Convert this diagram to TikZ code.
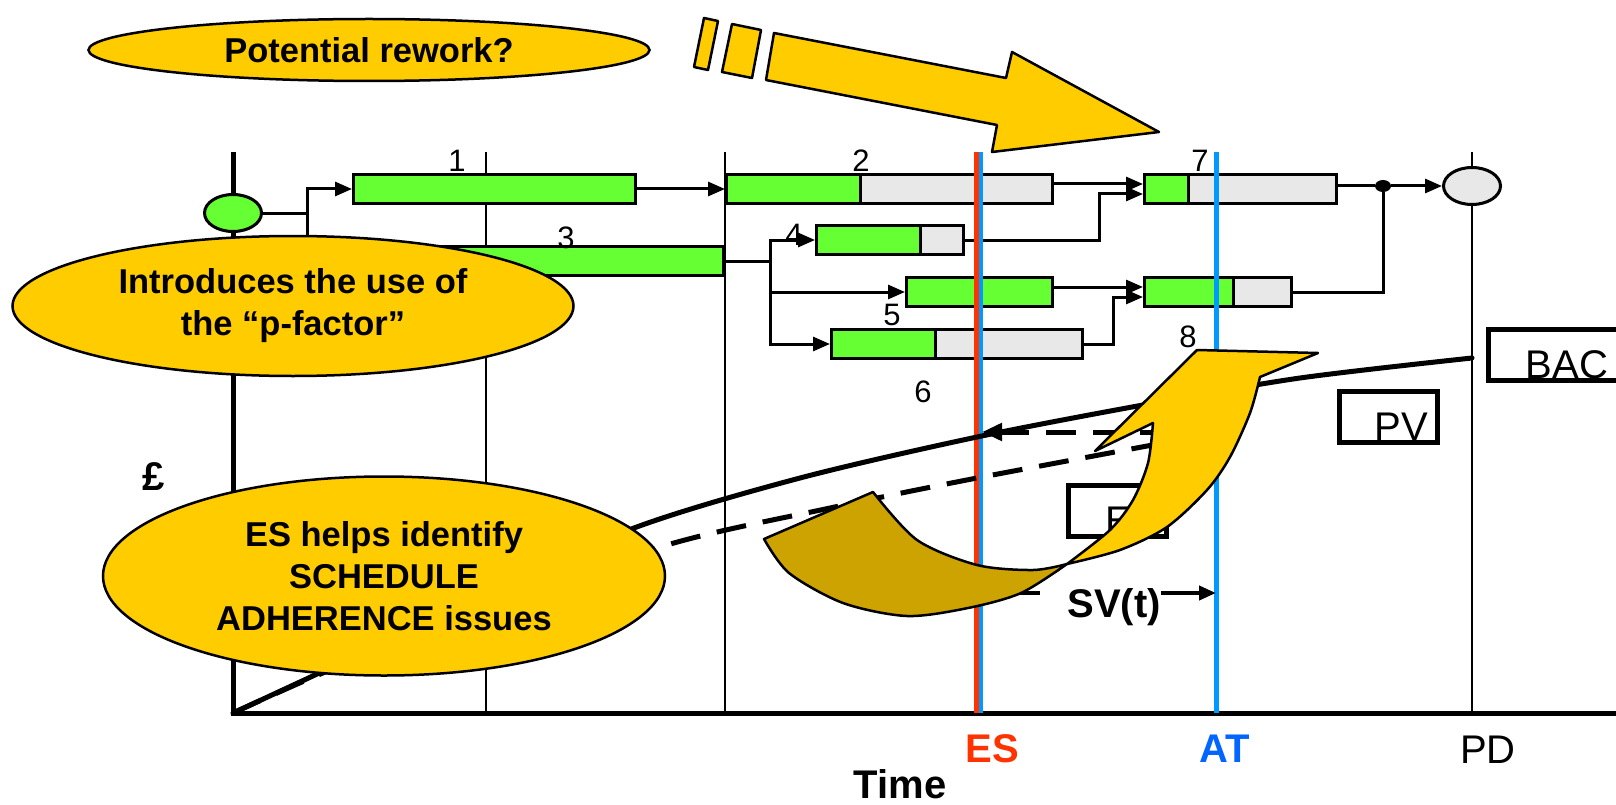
\documentclass[tikz,border=0pt]{standalone}
\usepackage{fontspec}
\setmainfont{Liberation Sans}
\usepackage{xcolor}
\usepackage{tikz}
\usetikzlibrary{positioning,arrows.meta,shapes.geometric}
\definecolor{ylw}{HTML}{FFCC00}
\definecolor{drk}{HTML}{CCA300}
\definecolor{grn}{HTML}{66FF33}
\definecolor{gry}{HTML}{E8E8E8}
\definecolor{esred}{HTML}{FF3300}
\definecolor{atblue}{HTML}{0099FF}
\definecolor{attxt}{HTML}{0066FF}

\begin{document}
\begin{tikzpicture}[x=1pt, y=-1pt,
  >={Triangle[length=17pt,width=14pt]},
  task/.style={draw, line width=3pt, fill=gry, inner sep=0pt, minimum height=29pt},
  full/.style={task, fill=grn},
  part/.style={path picture={\draw[line width=3pt, fill=grn]
      ([xshift=-5pt,yshift=5pt]path picture bounding box.north west) rectangle
      ([xshift=#1pt,yshift=-5pt]path picture bounding box.south west);}},
  evt/.style={ellipse, draw, line width=3pt, inner sep=0pt, minimum width=57pt, minimum height=37pt},
  conn/.style={line width=3pt},
  num/.style={font=\fontsize{31}{36}\selectfont, inner sep=0pt, anchor=base},
  vbox/.style={draw, line width=5pt, minimum width=98pt, minimum height=51pt, inner sep=0pt},
  vtxt/.style={font=\fontsize{40}{46}\selectfont, inner sep=0pt, anchor=base},
  btxt/.style={vtxt, font=\bfseries\fontsize{40}{46}\selectfont},
  call/.style={ellipse, draw, line width=2.5pt, fill=ylw, inner sep=0pt, align=center,
      minimum width=561pt, font=\bfseries\fontsize{34.5}{42}\selectfont},
  pvc/.style={line width=5pt, line cap=round, line join=round},
  evc/.style={line width=5pt, dash pattern=on 30pt off 17pt},
  shp/.style={line width=2.5pt, line join=round}]
\useasboundingbox (0,0) rectangle (1616,805);
\clip (0,0) rectangle (1616,805);

% axes and time grid
\coordinate (o) at (233,713);
\draw[line width=1.5pt] (486,152) -- (486,713) (725,152) -- (725,713) (1472,152) -- (1472,713);
\draw[line width=5pt, line join=miter] (233,152) -- (o) -- (1630,713);

% network
\node[evt, fill=grn] (st) at (233,213) {};
\node[evt, fill=gry] (en) at (1472,186) {};
\node[ellipse, fill, inner sep=0pt, minimum width=16pt, minimum height=12pt] (jn) at (1383,186) {};
\coordinate (br1) at (307,213);
\node[full, minimum width=282pt] (t1) at (494.5,189) {};
\node[task, part=133.5, minimum width=326pt] (t2) at (889.5,189) {};
\node[task, part=43.5, minimum width=192pt] (t7) at (1240.5,189) {};
\node[full, minimum width=370pt] (t3) at (538.5,261) {};
\node[task, part=103.5, minimum width=147pt] (t4) at (890,240) {};
\node[full, minimum width=146pt] (t5) at (979.5,292) {};
\node[task, part=88.5, minimum width=147pt] (t8) at (1218,292) {};
\node[task, part=103.5, minimum width=251pt] (t6) at (957,344) {};
\draw[conn] (st) -- (br1);
\draw[conn, ->] (br1) |- (t1);
\draw[conn, ->] (br1) |- (t3);
\draw[conn, ->] (t1) -- (t2);
\draw[conn, ->] ([yshift=5pt]t2.east) -- ([yshift=5pt]t7.west);
\draw[conn, ->] (t4) -| ([xshift=-44pt,yshift=-5pt]t7.west) -- ([yshift=-5pt]t7.west);
\draw[conn, ->] (t3.east) -- ++(45,0) |- (t4);
\draw[conn, ->] (t3.east) -- ++(45,0) |- (t5);
\draw[conn, ->] (t3.east) -- ++(45,0) |- (t6);
\draw[conn, ->] ([yshift=5pt]t5.east) -- ([yshift=5pt]t8.west);
\draw[conn, ->] (t6) -| ([xshift=-30pt,yshift=-5pt]t8.west) -- ([yshift=-5pt]t8.west);
\draw[conn] (t7.east |- jn) -- (jn);
\draw[conn, ->] (jn) -- (en);
\draw[conn] (t8) -| (jn);
\node[num] (l1) at (457,172) {1};
\node[num] (l2) at (861,172) {2};
\node[num] (l7) at (1200,172) {7};
\node[num] (l3) at (566,248) {3};
\node[num] (l4) at (794,245) {4};
\node[num] (l5) at (892,325) {5};
\node[num] (l8) at (1188,347) {8};
\node[num] (l6) at (923,402) {6};

% ES and AT
\draw[atblue, line width=4pt] (981,152) -- (981,713);
\draw[esred, line width=5pt] (976,152) -- (976,713);
\draw[atblue, line width=5pt] (1216,152) -- (1216,713);

% value boxes
\node[vbox] (evb) at (1117.5,510.5) {};
\node[vtxt] (evl) at (1132,534) {EV};
\node[vbox] (pvb) at (1388.5,417) {};
\node[vtxt] (pvl) at (1401,440) {PV};
\node[vbox, minimum width=160pt] (bcb) at (1568.5,355) {};
\node[vtxt] (bcl) at (1567,378) {BAC};

% PV and EV curves
\draw[pvc] plot[smooth] coordinates {(o) (330,668) (480,598) (634,528) (800,478) (977,437) (1143,405) (1300,378) (1472,358)};
\draw[evc] plot[smooth] coordinates {(o) (330,670) (480,612) (667,545) (830,508) (977,478) (1217,433)};
\coordinate (evat) at (1217,432);
\coordinate (esp) at (982,432);
\draw[evc, -{Triangle[length=20pt,width=17pt]}] (evat) -- (esp);

% SV(t)
\node[btxt] (sv) at (1114,617) {SV(t)};
\coordinate (svl) at (982,593);
\coordinate (svg) at (1040,593);
\coordinate (svr) at (1216,593);
\draw[line width=4pt] (svl) -- (svg);
\draw[line width=4pt, -{Triangle[length=17pt,width=14pt]}] (sv.east |- svr) -- (svr);

% callouts
\node[call, minimum height=62pt] (rw) at (369,50) {Potential rework?};
\node[call, minimum height=140pt] (pf) at (293,306) {Introduces the use of\\the “p-factor”};
\node[call, minimum height=199pt, minimum width=562pt] (eh) at (384,576) {ES helps identify\\SCHEDULE\\ADHERENCE issues};

% curved arrow
\filldraw[shp, fill=drk] (764,539) -- (873,492)
  -- plot[smooth] coordinates {(873,492) (917,540) (977,565) (1033,570) (1067,564)}
  -- plot[smooth] coordinates {(1067,564) (1021,593) (968,608) (907,616) (843,603) (789,573) (764,539)} -- cycle;
\filldraw[shp, fill=ylw] (1067,564)
  -- plot[smooth] coordinates {(1067,564) (1110,530) (1133,500) (1148,463) (1153,423)}
  -- (1095,451) -- (1197,350) -- (1318,353) -- (1260,377)
  -- plot[smooth] coordinates {(1260,377) (1250,413) (1230,457) (1207,490) (1167,527) (1120,550) (1067,564)} -- cycle;

% straight arrow
\filldraw[shp, fill=ylw] (704,18) -- (718,21) -- (708,70) -- (694,67) -- cycle;
\filldraw[shp, fill=ylw] (732,24) -- (761,30) -- (752,78) -- (722,72) -- cycle;
\filldraw[shp, fill=ylw] (774,33) -- (1006,78) -- (1012,52) -- (1159,132) -- (992,152) -- (997,125) -- (766,80) -- cycle;

% axis labels
\node[btxt] (gbp) at (154,490) {£};
\node[btxt, text=esred] (esl) at (992,762) {ES};
\node[btxt, text=attxt] (atl) at (1225,762) {AT};
\node[vtxt] (pdl) at (1488,763) {PD};
\node[btxt] (tml) at (900,798) {Time};
\end{tikzpicture}
\end{document}
